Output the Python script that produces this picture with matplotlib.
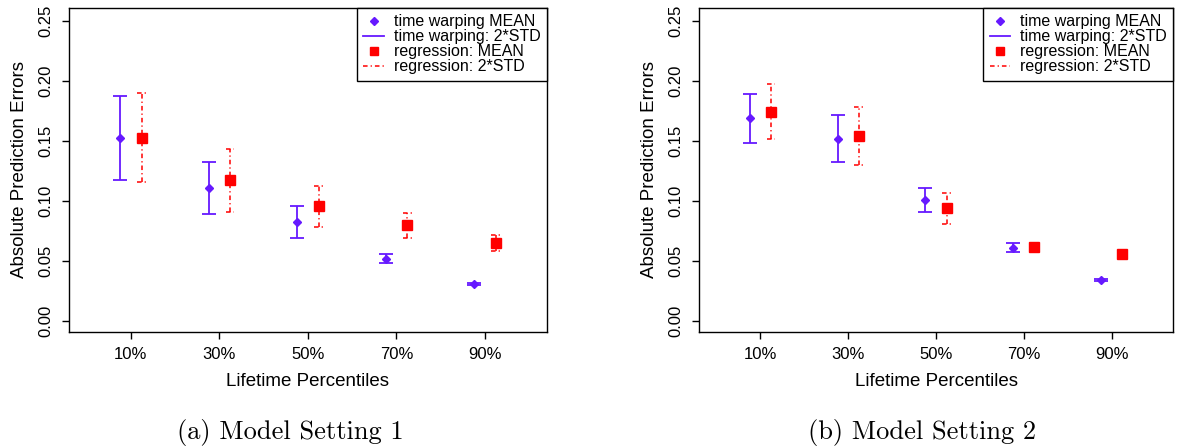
import numpy as np
import matplotlib
matplotlib.use('Agg')
import matplotlib.pyplot as plt
from matplotlib.lines import Line2D

plt.rcParams['font.family'] = ['Liberation Sans', 'DejaVu Sans']

percentiles = ['10%', '30%', '50%', '70%', '90%']
yticks = [0.00, 0.05, 0.10, 0.15, 0.20, 0.25]

# model setting 1: mean and 2*std of the absolute prediction errors
tw_mean_1 = [0.1523, 0.1110, 0.0822, 0.0518, 0.0307]
tw_std2_1 = [0.0352, 0.0216, 0.0132, 0.0039, 0.0009]
reg_mean_1 = [0.1528, 0.1171, 0.0955, 0.0797, 0.0651]
reg_std2_1 = [0.0370, 0.0259, 0.0171, 0.0106, 0.0065]

# model setting 2
tw_mean_2 = [0.1689, 0.1520, 0.1008, 0.0609, 0.0343]
tw_std2_2 = [0.0205, 0.0199, 0.0103, 0.0038, 0.0009]
reg_mean_2 = [0.1744, 0.1545, 0.0939, 0.0615, 0.0556]
reg_std2_2 = [0.0227, 0.0242, 0.0131, 0.0034, 0.0013]

tw_col = '#6619FF'
reg_col = '#FF0000'
dotdash = (0, (3, 2, 0.8, 2))


def draw_panel(ax, tw_mean, tw_std2, reg_mean, reg_std2):
    x = np.arange(1, len(percentiles) + 1)
    ax.errorbar(x - 0.12, tw_mean, yerr=tw_std2, fmt='D', color=tw_col,
                ms=4, lw=1.3, capsize=4.7, capthick=1.3)
    lo = np.array(reg_mean) - np.array(reg_std2)
    hi = np.array(reg_mean) + np.array(reg_std2)
    xr = x + 0.12
    ax.vlines(xr, lo, hi, colors=reg_col, linestyles=dotdash, lw=1.1)
    ax.hlines(hi, xr - 0.05, xr + 0.05, colors=reg_col, linestyles=dotdash, lw=1.1)
    ax.hlines(lo, xr - 0.05, xr + 0.05, colors=reg_col, linestyles=dotdash, lw=1.1)
    ax.plot(xr, reg_mean, 's', color=reg_col, ms=6.5)

    ax.set_xlim(0.3, 5.7)
    ax.set_ylim(-0.0092, 0.2608)
    ax.set_xticks(x, percentiles, fontsize=12)
    ax.set_yticks(yticks)
    ax.set_yticklabels(['%.2f' % v for v in yticks], rotation=90, va='center', fontsize=12)
    ax.tick_params(direction='out', length=5, width=1, pad=6)
    ax.set_xlabel('Lifetime Percentiles', fontsize=13.5, labelpad=8)
    ax.set_ylabel('Absolute Prediction Errors', fontsize=13.5, labelpad=8)
    for s in ax.spines.values():
        s.set_linewidth(1)

    handles = [
        Line2D([], [], marker='D', ls='none', color=tw_col, ms=4),
        Line2D([], [], color=tw_col, lw=1.3),
        Line2D([], [], marker='s', ls='none', color=reg_col, ms=6),
        Line2D([], [], color=reg_col, ls=dotdash, lw=1.1),
    ]
    labels = ['time warping MEAN', 'time warping: 2*STD',
              'regression: MEAN', 'regression: 2*STD']
    leg = ax.legend(handles, labels, loc='upper right', borderaxespad=0,
                    fontsize=11.5, fancybox=False, framealpha=1, edgecolor='black',
                    handlelength=1.3, handletextpad=0.6, labelspacing=0.0,
                    borderpad=0.4)
    leg.get_frame().set_linewidth(1)


fig = plt.figure(figsize=(11.77, 4.46), dpi=100)
ax1 = fig.add_axes([0.0586, 0.2556, 0.4061, 0.7265])
ax2 = fig.add_axes([0.5939, 0.2556, 0.4027, 0.7265])

draw_panel(ax1, tw_mean_1, tw_std2_1, reg_mean_1, reg_std2_1)
draw_panel(ax2, tw_mean_2, tw_std2_2, reg_mean_2, reg_std2_2)

fig.text(290 / 1177, 0.031, '(a) Model Setting 1', fontname='cmr10', fontsize=19, ha='center', va='center')
fig.text(922 / 1177, 0.031, '(b) Model Setting 2', fontname='cmr10', fontsize=19, ha='center', va='center')

fig.savefig('out.png', dpi=100)
